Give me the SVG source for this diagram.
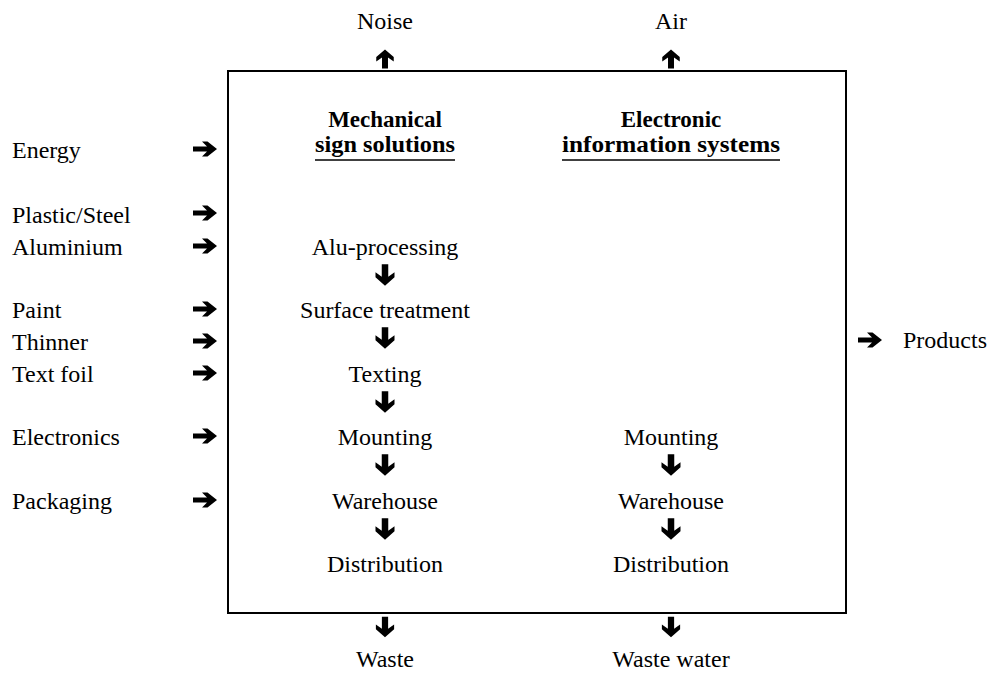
<svg xmlns="http://www.w3.org/2000/svg" width="994" height="673" viewBox="0 0 994 673">
<style>
text{font-family:"Liberation Serif","DejaVu Serif",serif;font-size:24px;fill:#000}
.c{text-anchor:middle}
.h{font-weight:bold;font-size:23px;text-anchor:middle}
.box{fill:none;stroke:#000;stroke-width:2}
.ul{stroke:#000;stroke-width:1.5}
</style>
<defs>
<path id="ar" d="M-12 -2.6 L2 -2.6 L-3 -7.6 L2.5 -7.6 L12 0 L2.5 7.6 L-3 7.6 L2 2.6 L-12 2.6 Z" fill="#000"/>
</defs>
<rect id="process-box" class="box" x="228" y="71" width="618" height="542"/>
<g id="header-mech">
<text class="h" x="385" y="127">Mechanical</text>
<text class="h" x="385" y="152" textLength="140" lengthAdjust="spacingAndGlyphs">sign solutions</text>
<line class="ul" x1="315" y1="160" x2="455" y2="160"/>
</g>
<g id="header-elec">
<text class="h" x="671" y="127">Electronic</text>
<text class="h" x="671" y="152" textLength="218" lengthAdjust="spacingAndGlyphs">information systems</text>
<line class="ul" x1="562" y1="160" x2="780" y2="160"/>
</g>
<g id="in-energy"><text x="12" y="158">Energy</text></g>
<g id="in-plastic"><text x="12" y="223">Plastic/Steel</text></g>
<g id="in-aluminium"><text x="12" y="255">Aluminium</text></g>
<g id="in-paint"><text x="12" y="318">Paint</text></g>
<g id="in-thinner"><text x="12" y="350">Thinner</text></g>
<g id="in-textfoil"><text x="12" y="382">Text foil</text></g>
<g id="in-electronics"><text x="12" y="445">Electronics</text></g>
<g id="in-packaging"><text x="12" y="509">Packaging</text></g>
<g id="m-alu"><text class="c" x="385" y="255">Alu-processing</text></g>
<g id="m-surface"><text class="c" x="385" y="318">Surface treatment</text></g>
<g id="m-texting"><text class="c" x="385" y="382">Texting</text></g>
<g id="m-mounting"><text class="c" x="385" y="445">Mounting</text></g>
<g id="m-warehouse"><text class="c" x="385" y="509">Warehouse</text></g>
<g id="m-distribution"><text class="c" x="385" y="572">Distribution</text></g>
<g id="e-mounting"><text class="c" x="671" y="445">Mounting</text></g>
<g id="e-warehouse"><text class="c" x="671" y="509">Warehouse</text></g>
<g id="e-distribution"><text class="c" x="671" y="572">Distribution</text></g>
<g id="out-noise"><text class="c" x="385" y="29">Noise</text></g>
<g id="out-air"><text class="c" x="671" y="29">Air</text></g>
<g id="out-waste"><text class="c" x="385" y="667">Waste</text></g>
<g id="out-wastewater"><text class="c" x="671" y="667">Waste water</text></g>
<g id="out-products"><text x="903" y="348">Products</text></g>
<g id="connectors">
<use href="#ar" transform="translate(205,149)"/>
<use href="#ar" transform="translate(205,213)"/>
<use href="#ar" transform="translate(205,246)"/>
<use href="#ar" transform="translate(205,309)"/>
<use href="#ar" transform="translate(205,341)"/>
<use href="#ar" transform="translate(205,373)"/>
<use href="#ar" transform="translate(205,436)"/>
<use href="#ar" transform="translate(205,500)"/>
<use href="#ar" transform="translate(870,340)"/>
<use href="#ar" transform="translate(385,275) rotate(90) scale(0.9,1.25)"/>
<use href="#ar" transform="translate(385,338) rotate(90) scale(0.9,1.25)"/>
<use href="#ar" transform="translate(385,402) rotate(90) scale(0.9,1.25)"/>
<use href="#ar" transform="translate(385,465) rotate(90) scale(0.9,1.25)"/>
<use href="#ar" transform="translate(385,529) rotate(90) scale(0.9,1.25)"/>
<use href="#ar" transform="translate(671,465) rotate(90) scale(0.9,1.25)"/>
<use href="#ar" transform="translate(671,529) rotate(90) scale(0.9,1.25)"/>
<use href="#ar" transform="translate(385,627) rotate(90) scale(0.85,1.2)"/>
<use href="#ar" transform="translate(671,627) rotate(90) scale(0.85,1.2)"/>
<use href="#ar" transform="translate(385,59) rotate(-90) scale(0.8,1.15)"/>
<use href="#ar" transform="translate(671,59) rotate(-90) scale(0.8,1.15)"/>
</g>
</svg>
